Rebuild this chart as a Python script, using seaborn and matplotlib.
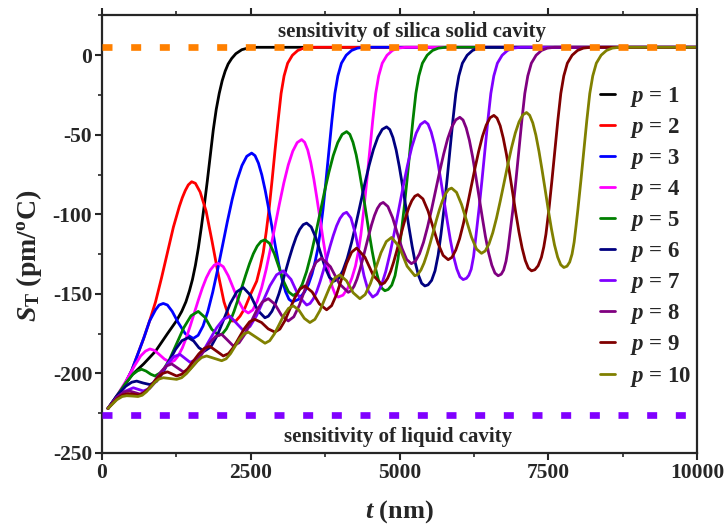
import matplotlib
matplotlib.use("Agg")
import matplotlib.pyplot as plt
import pandas as pd
import seaborn as sns
from matplotlib.ticker import MultipleLocator, FixedLocator

# ---------------- data ----------------
t1 = [100,300,500,700,900,1100,1250,1340,1410,1470,1520,1570,1620,1670,1720,1770,1820,1870,1920,1970,2020,2070,2120,2180,2250,2350,2450,2600,10000]
s1 = [-222,-212,-201,-194,-186,-175,-167,-161,-155,-148,-141,-132,-121,-108,-94,-79,-63,-47,-34,-24,-16,-10,-5.5,-2,1,3.5,4.5,5,5]

t2 = [100,300,500,700,800,900,1000,1100,1200,1300,1350,1400,1450,1507,1570,1650,1750,1850,1950,2050,
      2120,2180,2250,2320,2400,2500,2600,2660,2710,2760,2810,2860,2910,2960,3010,3060,3120,3200,3290,3390,3510,10000]
s2 = [-222,-213,-198,-178,-167,-155,-140,-124,-108,-95,-89.5,-85,-81.5,-79.5,-80.5,-86,-98,-117,-137,-155,
      -163,-167,-167,-164,-159,-150,-142,-133,-124,-111,-96,-78,-59,-41,-24,-13,-5,0,3,4.5,5,5]

t3 = [100,300,500,700,800,900,960,1030,1100,1180,1280,1400,1534,
      1616,1698,1779,1861,1943,2025,2106,2188,2270,2352,2433,2515,
      2572,2629,2686,2743,2800,2858,2915,2972,3029,3086,3143,3200,
      3300,3400,3470,3530,3580,3625,3664,3714,3764,3814,3864,3914,3964,4024,4104,4194,4294,4414,10000]
s3 = [-222,-213,-198,-178,-167,-160,-157,-156,-157,-161,-168,-175,-178,
      -176,-170.2,-161,-148.9,-134.8,-119.75,-104.7,-90.6,-78.5,-69.3,-63.5,-61.5,
      -63.1,-67.8,-75.2,-84.9,-96.2,-108.25,-120.3,-131.6,-141.3,-148.7,-153.4,-155,
      -153.5,-149,-144,-137.5,-130,-122,-112,-97,-79,-60,-41,-24,-13,-5,0,3,4.5,5,5]

t4 = [100,250,400,550,650,730,806,880,960,1050,1150,
      1217,1284,1351,1418,1485,1552,1619,1686,1753,1820,1887,1954,
      2038,2122,2207,2291,2375,2459,
      2534,2608,2683,2758,2832,2907,2982,3056,3131,3206,3280,3355,
      3406,3458,3509,3560,3611,3663,3714,3765,3816,3868,3919,3970,
      4050,4130,4200,4260,4310,4350,4400,4450,4500,4550,4600,4650,4710,4790,4880,4980,5100,10000]
s4 = [-222,-214,-205,-195,-189,-186,-184.6,-185.5,-188,-191,-193,
      -191.9,-188.8,-183.9,-177.45,-169.9,-161.9,-153.9,-146.35,-139.9,-135,-131.9,-130.8,
      -132.9,-138.6,-146.4,-154.2,-159.9,-162,
      -160.1,-154.7,-146.1,-134.75,-121.6,-107.5,-93.4,-80.25,-68.9,-60.3,-54.9,-53,
      -54.7,-59.6,-67.5,-77.75,-89.7,-102.5,-115.3,-127.25,-137.5,-145.4,-150.3,-152,
      -150.8,-146.5,-140,-132.5,-123,-113,-97,-79,-60,-41,-24,-13,-5,0,3,4.5,5,5]

t5 = [100,250,400,520,600,667,740,820,890,1011,1133,1254,1375,1497,1618,1732,1846,1960,
      2025,2090,2154,2219,2284,2349,2414,2479,2543,2608,2673,2738,
      2817,2897,2976,3055,3135,3214,
      3289,3364,3438,3513,3588,3663,3737,3812,3887,3962,4036,4111,
      4165,4218,4272,4325,4379,4433,4486,4540,4593,4647,4700,4754,
      4810,4870,4925,4975,5025,5075,5125,5175,5225,5275,5325,5385,5465,5555,5655,5775,10000]
s5 = [-222,-214,-206,-200.5,-198.3,-197.4,-198.5,-200.5,-201.6,-198.9,-191.4,-181.3,-171.2,-163.7,-161,-164.8,-172.3,-176,
      -175,-172,-167.2,-161,-153.7,-146,-138.3,-131,-124.8,-120,-117,-116,
      -118.3,-124.8,-133.5,-142.3,-148.7,-151,
      -149.25,-144.1,-136,-125.25,-112.8,-99.5,-86.2,-73.75,-63,-54.9,-49.75,-48,
      -49.7,-54.7,-62.6,-73,-85.1,-98,-110.9,-123,-133.4,-141.3,-146.3,-148,
      -147.2,-144.5,-138.5,-128,-113,-97,-79,-60,-41,-24,-13,-5,0,3,4.5,5,5]

t6 = [100,250,400,500,583,690,806,913,1020,1128,1235,1343,1450,1540,1630,1720,1829,1938,2047,2156,2265,2374,2495,2617,2738,
      2796,2855,2913,2972,3030,3089,3147,3206,3264,3322,3381,3439,
      3516,3593,3670,3746,3823,3900,
      3974,4047,4121,4194,4268,4342,4415,4489,4562,4636,4710,4783,
      4837,4890,4944,4997,5051,5105,5158,5212,5265,5319,5372,5426,
      5480,5540,5597,5650,5697,5747,5797,5847,5897,5947,5997,6057,6137,6227,6327,6447,10000]
s6 = [-222,-214,-208,-205.5,-204.8,-206,-207,-205.1,-199.6,-192.3,-184.9,-179.4,-177.5,-179.6,-183.9,-186,-183.3,-176,-166,-156,-148.7,-146,-150.8,-160.3,-165,
      -164,-161,-156.3,-150.1,-142.9,-135.25,-127.6,-120.4,-114.2,-109.5,-106.5,-105.5,
      -107.9,-114.6,-123.8,-132.9,-139.6,-142,
      -140.35,-135.5,-127.8,-117.75,-106,-93.5,-81,-69.25,-59.2,-51.5,-46.6,-45,
      -46.7,-51.7,-59.6,-70,-82.1,-95,-107.9,-120,-130.4,-138.3,-143.3,-145,
      -144.3,-141.5,-135.5,-125.5,-112.5,-97,-79,-60,-41,-24,-13,-5,0,3,4.5,5,5]

t7 = [100,250,400,526,610,694,797,899,1002,1105,1207,1310,1395,1480,1592,1703,1815,1927,2038,2150,2262,2374,2486,2598,2710,2822,2934,3046,3177,3309,3440,
      3496,3552,3608,3664,3720,3776,3831,3887,3943,3999,4055,4111,
      4184,4257,4331,4404,4477,4550,
      4623,4696,4769,4842,4915,4988,5061,5134,5207,5280,5353,5426,
      5480,5533,5587,5641,5694,5748,5802,5855,5909,5963,6016,6070,
      6125,6165,6205,6245,6285,6335,6385,6435,6485,6535,6585,6645,6725,6815,6915,7035,10000]
s7 = [-222,-215,-211,-209,-210,-211,-209.5,-205.3,-199.5,-193.8,-189.5,-188,-190.5,-193,-191.1,-185.8,-178.5,-171.3,-166,-164,-168.5,-173,-170.5,-163.6,-154.3,-144.9,-138,-135.5,-140.9,-151.6,-157,
      -156,-153.1,-148.5,-142.4,-135.4,-127.85,-120.3,-113.3,-107.2,-102.6,-99.7,-98.7,
      -102.3,-112,-125.4,-138.7,-148.4,-152,
      -150.1,-144.6,-135.9,-124.4,-111,-96.8,-82.6,-69.2,-57.7,-49,-43.5,-41.6,
      -43.3,-48.3,-56.1,-66.45,-78.5,-91.3,-104.1,-116.15,-126.5,-134.3,-139.3,-141,
      -140.2,-138.3,-134.5,-126.5,-113.5,-97,-79,-60,-41,-24,-13,-5,0,3,4.5,5,5]

t8 = [100,250,380,460,550,640,729,817,906,994,1083,1171,1268,1366,1474,1581,1689,1796,1904,2011,2108,2206,2304,2402,2501,2599,2697,2795,2907,3018,3130,3223,3317,3410,3503,3597,3690,3839,3989,4138,
      4187,4236,4285,4334,4383,4432,4481,4530,4579,4628,4677,4726,
      4805,4884,4963,5042,5121,5200,
      5268,5336,5403,5471,5539,5607,5675,5743,5810,5878,5946,6014,
      6068,6121,6175,6229,6282,6336,6390,6443,6497,6551,6604,6658,
      6710,6750,6790,6825,6856,6906,6956,7006,7056,7106,7156,7216,7296,7386,7486,7606,10000]
s8 = [-222,-215,-211.5,-211,-212,-213,-211.7,-208.3,-203.5,-198.8,-195.3,-194,-196.5,-199,-197.4,-193.1,-187.2,-181.3,-176.9,-175.4,-179,-182.7,-180.7,-175.3,-167.9,-160.4,-155,-153,-156.5,-163.5,-167,-164.4,-157.1,-147.3,-137.4,-130.1,-127.5,-132.9,-143.6,-149,
      -148,-145.2,-140.75,-134.9,-128,-120.75,-113.5,-106.6,-100.75,-96.3,-93.5,-92.5,
      -95.1,-102.1,-111.8,-121.4,-128.4,-131,
      -129.4,-124.8,-117.6,-108,-96.9,-85,-73.1,-62,-52.4,-45.2,-40.6,-39,
      -40.7,-45.7,-53.5,-63.9,-76,-88.8,-101.6,-113.7,-124.1,-131.9,-136.9,-138.6,
      -137.6,-135,-129.5,-121.5,-112,-97,-79,-60,-41,-24,-13,-5,0,3,4.5,5,5]

t9 = [100,250,350,437,520,605,688,770,853,935,1018,1100,1177,1254,1347,1441,1534,1627,1721,1814,1926,2038,2127,2215,2304,2393,2481,2570,2682,2794,2906,2990,3074,3158,3242,3326,3410,3532,3653,3775,3859,3943,4027,4111,4195,4279,4419,4558,4698,
      4749,4800,4851,4902,4953,5004,5054,5105,5156,5207,5258,5309,
      5394,5479,5564,5648,5733,5818,
      5882,5946,6010,6074,6138,6202,6266,6330,6394,6458,6522,6586,
      6639,6692,6744,6797,6850,6903,6955,7008,7061,7114,7166,7219,
      7275,7330,7385,7425,7461,7511,7561,7611,7661,7711,7761,7821,7901,7991,8091,8211,10000]
s9 = [-222,-216,-213.5,-212.7,-213,-213.6,-212.6,-210,-206.3,-202.7,-200,-199,-200.3,-201.6,-200.4,-197,-192.3,-187.7,-184.2,-183,-186,-189,-187.5,-183.3,-177.5,-171.8,-167.5,-166,-168,-172,-174,-172.1,-166.8,-159.5,-152.3,-147,-145,-148.8,-156.3,-160,-157.4,-150.3,-140.6,-130.9,-123.8,-121.2,-126.9,-138.3,-144,
      -143,-140.2,-135.8,-129.9,-123.1,-115.8,-108.5,-101.7,-95.8,-91.4,-88.6,-87.6,
      -90.3,-97.8,-108.1,-118.3,-125.8,-128.5,
      -127,-122.4,-115.3,-105.8,-94.9,-83.15,-71.45,-60.5,-51,-43.9,-39.3,-37.8,
      -39.5,-44.3,-52.1,-62.2,-74,-86.65,-99.3,-111.1,-121.2,-129,-133.8,-135.5,
      -134.8,-132.3,-127,-120.5,-112.5,-97,-79,-60,-41,-24,-13,-5,0,3,4.5,5,5]

t10 = [100,250,340,415,510,605,676,747,818,889,959,1030,1142,1254,1338,1422,1506,1590,1674,1758,1885,2011,2086,2161,2235,2310,2384,2459,2600,2740,2819,2898,2977,3056,3135,3214,3307,3401,3494,3578,3662,3746,3830,3914,3998,4110,4222,4334,4423,4512,4601,4689,4778,4867,4997,5128,5258,
       5309,5361,5412,5464,5515,5567,5618,5669,5721,5772,5823,5875,
       5959,6043,6127,6210,6294,6378,
       6441,6504,6567,6630,6693,6757,6820,6883,6946,7009,7072,7135,
       7187,7240,7292,7344,7396,7449,7501,7553,7605,7658,7710,7762,
       7815,7860,7900,7935,7965,7998,8048,8098,8148,8198,8248,8308,8388,8478,8578,8698,10000]
s10 = [-222,-216.5,-214.5,-214,-214.2,-214.5,-213.7,-211.5,-208.6,-205.6,-203.5,-202.7,-203.2,-203.7,-202.7,-200,-196.4,-192.7,-190,-189,-190.5,-192,-190.8,-187.5,-183,-178.5,-175.2,-174,-177.5,-181,-179.4,-175.1,-169.3,-163.4,-159.1,-157.5,-160.1,-165.4,-168,-166,-160.5,-153,-145.5,-140,-138,-141.8,-149.3,-153,-150.4,-143.4,-133.8,-124.1,-117.1,-114.5,-120.5,-132.6,-138.6,
       -137.7,-134.9,-130.6,-124.8,-118.2,-111.05,-103.9,-97.3,-91.5,-87.2,-84.4,-83.5,
       -86.2,-93.8,-104,-114.3,-121.8,-124.5,
       -123,-118.6,-111.6,-102.4,-91.7,-80.25,-68.8,-58.1,-48.9,-41.9,-37.5,-36,
       -37.7,-42.5,-50.2,-60.35,-72.1,-84.7,-97.3,-109.05,-119.2,-126.9,-131.7,-133.4,
       -132.6,-130,-125,-117.5,-108,-97,-79,-60,-41,-24,-13,-5,0,3,4.5,5,5]

p_values = [1, 2, 3, 4, 5, 6, 7, 8, 9, 10]
colors = ["#000000", "#FF0000", "#0000FF", "#FF00FF", "#008000",
          "#000080", "#8000FF", "#800080", "#800000", "#808000"]
solid_level = 5
liquid_level = -226
solid_label = "sensitivity of silica solid cavity"
liquid_label = "sensitivity of liquid cavity"
xticks = [0, 2500, 5000, 7500, 10000]
yticks = [-250, -200, -150, -100, -50, 0]

# ---------------- build table ----------------
ts = [t1, t2, t3, t4, t5, t6, t7, t8, t9, t10]
ss = [s1, s2, s3, s4, s5, s6, s7, s8, s9, s10]
frames = [pd.DataFrame({"t": t, "S": s, "p": p}) for p, t, s in zip(p_values, ts, ss)]
df = pd.concat(frames, ignore_index=True)

# ---------------- style ----------------
sns.set_style("ticks")
plt.rcParams["font.family"] = ["Liberation Serif", "DejaVu Serif"]
plt.rcParams["font.weight"] = "bold"
plt.rcParams["axes.unicode_minus"] = False
plt.rcParams["mathtext.fontset"] = "custom"
plt.rcParams["mathtext.it"] = "Liberation Serif:italic:bold"
plt.rcParams["mathtext.rm"] = "Liberation Serif:bold"
plt.rcParams["mathtext.bf"] = "Liberation Serif:bold"
plt.rcParams["axes.linewidth"] = 1.6

fig = plt.figure(figsize=(7.24, 5.27), dpi=100)
ax = fig.add_axes([102/724, 1 - 453/527, (697-102)/724, (453-15)/527])

sns.lineplot(data=df, x="t", y="S", hue="p", hue_order=p_values,
             palette=colors, sort=False, estimator=None, lw=2.0,
             legend=False, ax=ax)
for ln in ax.get_lines():
    ln.set_solid_joinstyle("round")

# reference levels
ax.plot([0, 10000], [solid_level, solid_level], color="#FF8000", lw=4.8,
        dashes=(1.5, 2.8), dash_capstyle="butt", zorder=5)
ax.plot([0, 10000], [liquid_level, liquid_level], color="#8000FF", lw=4.8,
        dashes=(1.5, 2.8), dash_capstyle="butt", zorder=5)

ax.text(5210, 14.5, solid_label, ha="center", va="center", fontsize=15, fontweight="bold")
ax.text(4975, -240, liquid_label, ha="center", va="center", fontsize=15, fontweight="bold")

ax.set_xlim(0, 10000)
ax.set_ylim(-250, 25.3)
ax.xaxis.set_major_locator(FixedLocator(xticks))
ax.xaxis.set_minor_locator(MultipleLocator(1250))
ax.yaxis.set_major_locator(FixedLocator(yticks))
ax.yaxis.set_minor_locator(MultipleLocator(25))
ax.tick_params(which="major", direction="out", length=5, width=1.5, labelsize=15.5, pad=2)
ax.tick_params(which="minor", direction="out", length=3, width=1.2)
ax.tick_params(axis="x", which="both", top=True)
for lab in ax.get_xticklabels() + ax.get_yticklabels():
    lab.set_fontweight("bold")
for sp in ax.spines.values():
    sp.set_visible(True)
    sp.set_linewidth(1.6)

ax.set_xlabel(r"$t$ (nm)", fontsize=19, fontweight="bold", labelpad=11)
ax.set_ylabel(r"$S_{\mathrm{T}}$ (pm/$^{\mathrm{o}}$C)", fontsize=20, fontweight="bold")
ax.yaxis.set_label_coords(-0.098, 0.45)

handles = ax.get_lines()[:10]
labels = [rf"$p$ = {p}" for p in p_values]
leg = ax.legend(handles, labels, loc="center left", bbox_to_anchor=(0.822, 0.494),
                frameon=False, fontsize=16.5, handlelength=0.65, handletextpad=0.65,
                labelspacing=0.31, borderaxespad=0, borderpad=0.4)

fig.savefig("out.png", dpi=100)
